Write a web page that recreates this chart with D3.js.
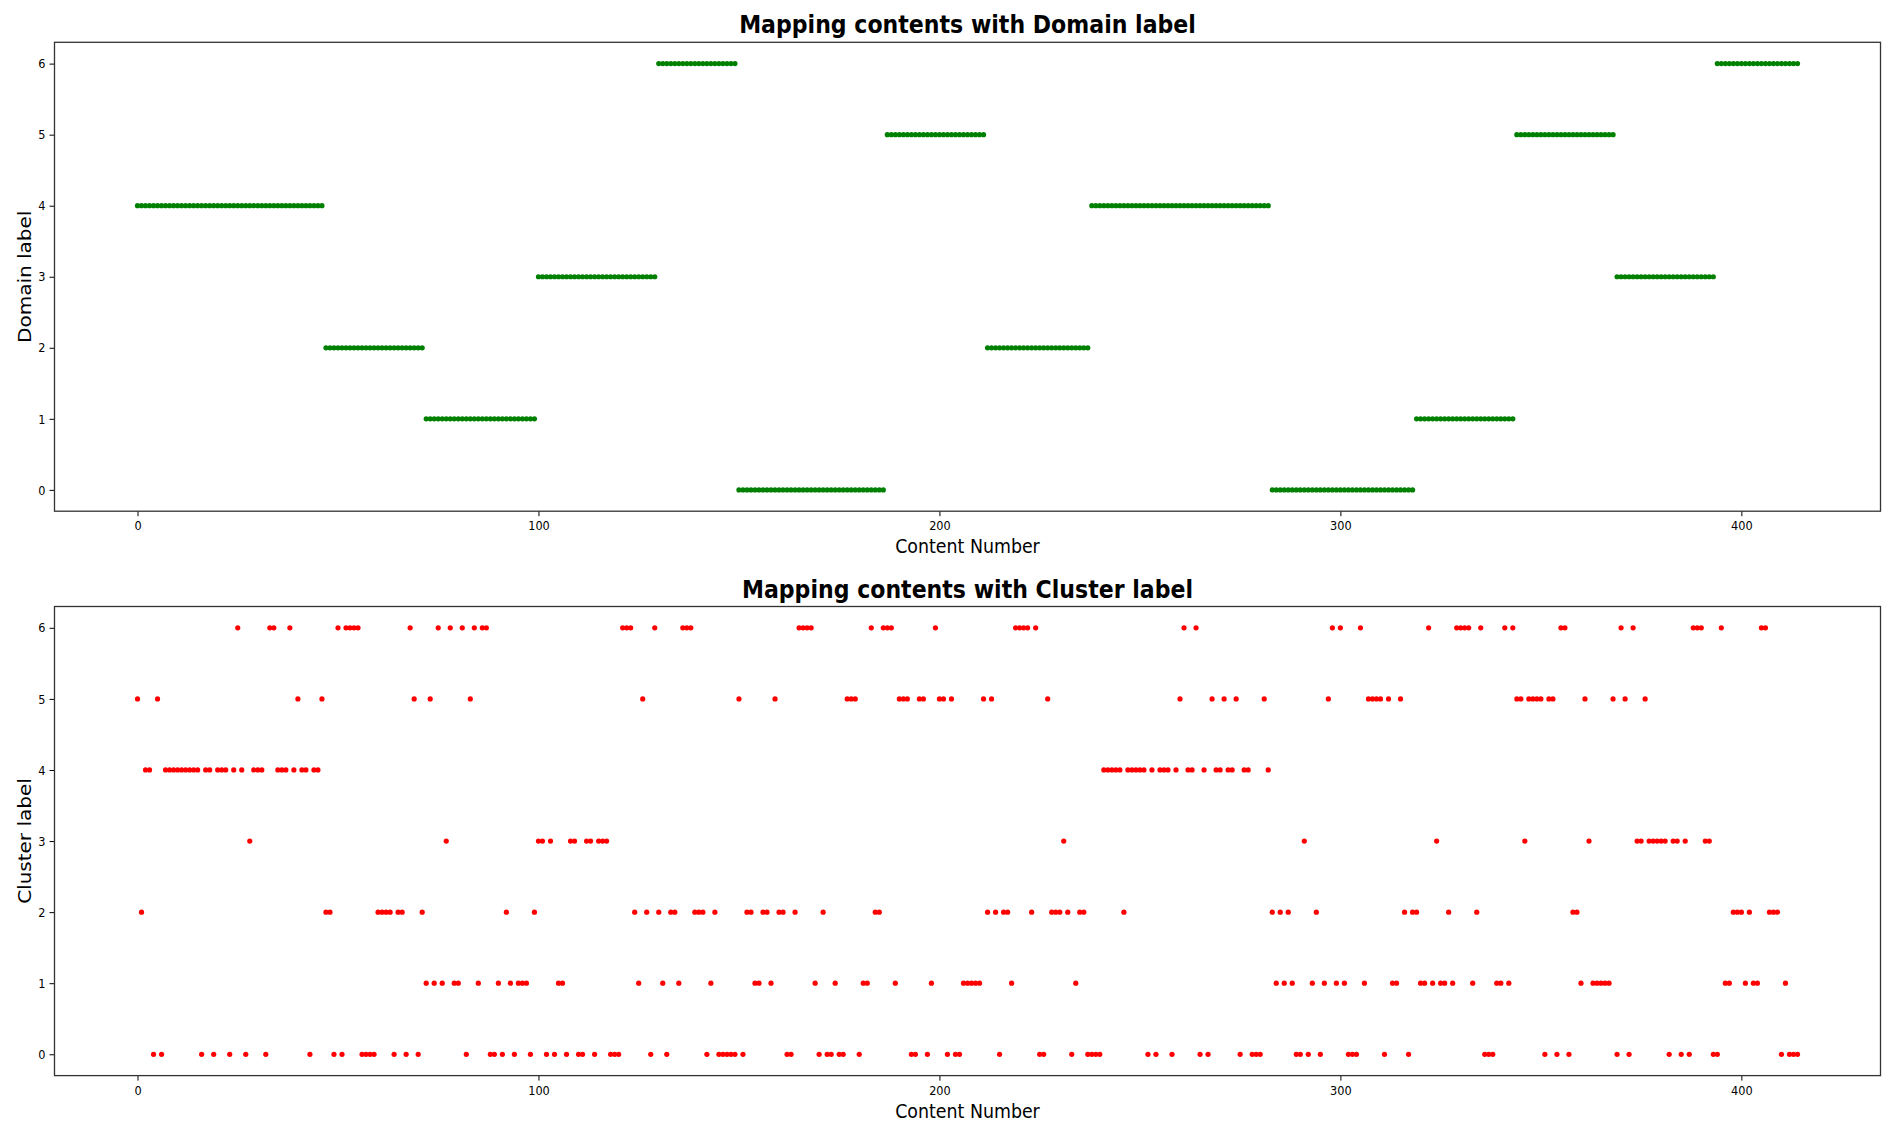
<!DOCTYPE html>
<html>
<head>
<meta charset="utf-8">
<script src="https://cdn.jsdelivr.net/npm/d3@7"></script>
<style>
body{margin:0;background:#fff;}
svg text{font-family:"DejaVu Sans",sans-serif;fill:#000;}
</style>
</head>
<body>
<div id="chart"></div>
<script>
// domain label of every content (index = content number)
var domainLabels = [
4,4,4,4,4,4,4,4,4,4, 4,4,4,4,4,4,4,4,4,4, 4,4,4,4,4,4,4,4,4,4, 4,4,4,4,4,4,4,4,4,4,
4,4,4,4,4,4,4,2,2,2, 2,2,2,2,2,2,2,2,2,2, 2,2,2,2,2,2,2,2,2,2, 2,2,1,1,1,1,1,1,1,1,
1,1,1,1,1,1,1,1,1,1, 1,1,1,1,1,1,1,1,1,1, 3,3,3,3,3,3,3,3,3,3, 3,3,3,3,3,3,3,3,3,3,
3,3,3,3,3,3,3,3,3,3, 6,6,6,6,6,6,6,6,6,6, 6,6,6,6,6,6,6,6,6,6, 0,0,0,0,0,0,0,0,0,0,
0,0,0,0,0,0,0,0,0,0, 0,0,0,0,0,0,0,0,0,0, 0,0,0,0,0,0,0,5,5,5, 5,5,5,5,5,5,5,5,5,5,
5,5,5,5,5,5,5,5,5,5, 5,5,2,2,2,2,2,2,2,2, 2,2,2,2,2,2,2,2,2,2, 2,2,2,2,2,2,2,2,4,4,
4,4,4,4,4,4,4,4,4,4, 4,4,4,4,4,4,4,4,4,4, 4,4,4,4,4,4,4,4,4,4, 4,4,4,4,4,4,4,4,4,4,
4,4,4,0,0,0,0,0,0,0, 0,0,0,0,0,0,0,0,0,0, 0,0,0,0,0,0,0,0,0,0, 0,0,0,0,0,0,0,0,0,1,
1,1,1,1,1,1,1,1,1,1, 1,1,1,1,1,1,1,1,1,1, 1,1,1,1,5,5,5,5,5,5, 5,5,5,5,5,5,5,5,5,5,
5,5,5,5,5,5,5,5,5,3, 3,3,3,3,3,3,3,3,3,3, 3,3,3,3,3,3,3,3,3,3, 3,3,3,3,6,6,6,6,6,6,
6,6,6,6,6,6,6,6,6,6, 6,6,6,6,6
];

// cluster label of every content
var clusterLabels = [
5,2,4,4,0,5,0,4,4,4, 4,4,4,4,4,4,0,4,4,0, 4,4,4,0,4,6,4,0,3,4, 4,4,0,6,6,4,4,4,6,4,
5,4,4,0,4,4,5,2,2,0, 6,0,6,6,6,6,0,0,0,0, 2,2,2,2,0,2,2,0,6,5, 0,2,1,5,1,6,1,3,6,1,
1,6,0,5,6,1,6,6,0,0, 1,0,2,1,0,1,1,1,0,2, 3,3,0,3,0,1,1,0,3,3, 0,0,3,3,0,3,3,3,0,0,
0,6,6,6,2,1,5,2,0,6, 2,1,0,2,2,1,6,6,6,2, 2,2,0,1,2,0,0,0,0,0, 5,0,2,2,1,1,2,2,1,5,
2,2,0,0,2,6,6,6,6,1, 0,2,0,0,1,0,0,5,5,5, 0,1,1,6,2,2,6,6,6,1, 5,5,5,0,0,5,5,0,1,6,
5,5,0,5,0,0,1,1,1,1, 1,5,2,5,2,0,2,2,1,6, 6,6,6,2,6,0,0,5,2,2, 2,3,2,0,1,2,2,0,0,0,
0,4,4,4,4,4,2,4,4,4, 4,4,0,4,0,4,4,4,0,4, 5,6,4,4,6,0,4,0,5,4, 4,5,4,4,5,0,4,4,0,0,
0,5,4,2,1,2,1,2,1,0, 0,3,0,1,2,0,1,5,6,1, 6,1,0,0,0,6,1,5,5,5, 5,0,5,1,1,5,2,0,2,2,
1,1,6,1,3,1,1,2,1,6, 6,6,6,1,2,6,0,0,0,1, 1,6,1,6,5,5,3,5,5,5, 5,0,5,5,0,6,6,0,2,2,
1,5,3,1,1,1,1,1,5,0, 6,5,0,6,3,3,5,3,3,3, 3,3,0,3,3,0,3,0,6,6, 6,3,3,0,0,6,1,1,2,2,
2,1,2,1,1,6,6,2,2,2, 0,1,0,0,0
];

var xTicks = [0, 100, 200, 300, 400];
var yTicks = [0, 1, 2, 3, 4, 5, 6];

var W = 1895, H = 1126;
var left = 54.5, right = 1880.5;
var squeeze = 0.87; // text in the reference looks horizontally narrowed

var svg = d3.select("#chart").append("svg")
    .attr("width", W)
    .attr("height", H);

var n = domainLabels.length - 1;
var pad = n * 0.05;
var x = d3.scaleLinear().domain([-pad, n + pad]).range([left, right]);

function panel(top, bottom, labels, color, title, ylabel) {
    var y = d3.scaleLinear().domain([-0.3, 6.3]).range([bottom, top]);
    var g = svg.append("g");

    g.selectAll("circle")
        .data(labels)
        .enter().append("circle")
        .attr("cx", function(d, i) { return x(i); })
        .attr("cy", function(d) { return y(d); })
        .attr("r", 2.6)
        .style("fill", color);

    var xa = g.append("g")
        .attr("transform", "translate(0," + bottom + ")")
        .call(d3.axisBottom(x).tickValues(xTicks).tickFormat(d3.format("d")).tickSize(5).tickPadding(5));
    var ya = g.append("g")
        .attr("transform", "translate(" + left + ",0)")
        .call(d3.axisLeft(y).tickValues(yTicks).tickFormat(d3.format("d")).tickSize(5).tickPadding(4));
    [xa, ya].forEach(function(a) {
        a.select(".domain").remove();
        a.selectAll(".tick line").style("stroke", "#000");
        a.selectAll(".tick text").style("font-size", "13px").style("font-family", "DejaVu Sans")
            .attr("transform", "scale(" + squeeze + ",1)");
    });
    ya.selectAll(".tick text").attr("x", -9 / squeeze);

    // frame
    g.append("rect")
        .attr("x", left).attr("y", top)
        .attr("width", right - left).attr("height", bottom - top)
        .style("fill", "none").style("stroke", "#333").style("stroke-width", 1.3);

    g.append("text")
        .attr("transform", "translate(" + (left + right) / 2 + "," + (top - 9) + ")scale(0.92,1)")
        .attr("text-anchor", "middle")
        .style("font-size", "24px").style("font-weight", "bold")
        .text(title);

    g.append("text")
        .attr("transform", "translate(" + (left + right) / 2 + "," + (bottom + 42) + ")scale(" + squeeze + ",1)")
        .attr("text-anchor", "middle")
        .style("font-size", "20px")
        .text("Content Number");

    g.append("text")
        .attr("transform", "translate(31," + (top + bottom) / 2 + ")scale(" + squeeze + ",1)rotate(-90)")
        .attr("text-anchor", "middle")
        .style("font-size", "20px")
        .text(ylabel);
}

panel(42.3, 511.2, domainLabels, "#008000", "Mapping contents with Domain label", "Domain label");
panel(606.5, 1075.6, clusterLabels, "#ff0000", "Mapping contents with Cluster label", "Cluster label");
</script>
</body>
</html>
